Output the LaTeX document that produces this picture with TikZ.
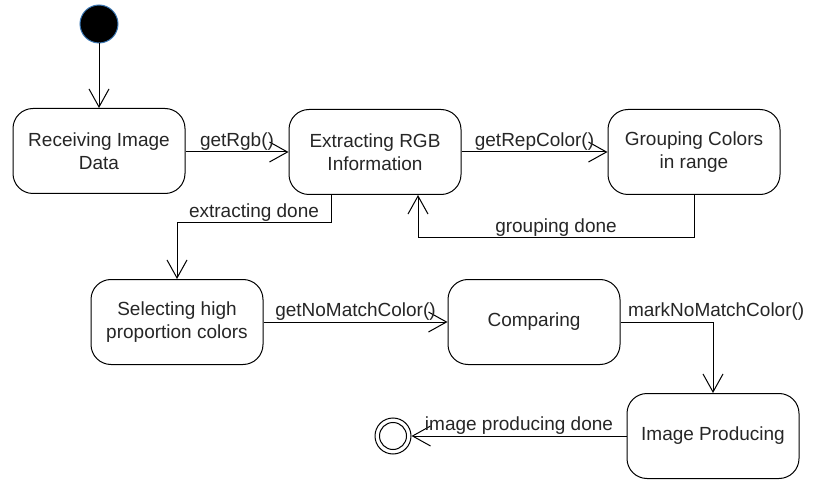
\documentclass[tikz,border=0pt]{standalone}
\usepackage{fontspec}
\setmainfont{Liberation Sans}
\usetikzlibrary{arrows.meta}
\tikzset{every path/.style={line width=1pt},
  state/.style={draw, rounded corners=20pt, minimum width=172pt, minimum height=85pt,
    align=center, text=black!85, font=\fontsize{19}{23}\selectfont},
  initial/.style={circle, fill=black, draw={rgb,255:red,60;green,120;blue,180}, minimum size=38pt, inner sep=0pt},
  final/.style={circle, draw, minimum size=36pt, inner sep=0pt},
  trans/.style={-{Straight Barb[length=18pt,width=20pt]}},
  lbl/.style={text=black!85, font=\fontsize{19}{23}\selectfont, inner sep=1pt}}

\begin{document}
\begin{tikzpicture}[x=1pt,y=-1pt]
  \useasboundingbox (0,0) rectangle (831,492);
  % states
  \node[initial] (init) at (99,24) {};
  \node[state] (recv) at (99,151) {Receiving Image\\Data};
  \node[state] (extr) at (375,152) {Extracting RGB\\Information};
  \node[state] (grp) at (694,152) {Grouping Colors\\in range};
  \node[state] (sel) at (177,322) {Selecting high\\proportion colors};
  \node[state] (cmp) at (534,322) {Comparing};
  \node[state] (prod) at (713,436) {Image Producing};
  \node[final] (fin) at (393,436) {};
  \draw (fin.center) circle (13.5pt);
  % transitions
  \draw[trans] (init) -- (recv);
  \draw[trans] (recv.east |- extr) -- node[lbl, above] {getRgb()} (extr);
  \draw[trans] (extr) -- node[lbl, above] {getRepColor()} (grp);
  \draw[trans] (grp.south) -- ++(0,43) -| node[lbl, above, pos=0.25] {grouping done} ([xshift=43pt]extr.south);
  \draw[trans] ([xshift=-44pt]extr.south) -- ++(0,28) -| node[lbl, above, pos=0.25] {extracting done} (sel.north);
  \draw[trans] (sel) -- node[lbl, above] {getNoMatchColor()} (cmp);
  \draw[trans] (cmp.east) -| node[lbl, above right, pos=0, xshift=6pt] {markNoMatchColor()} (prod.north);
  \draw[trans] (prod) -- node[lbl, above] {image producing done} (fin);
\end{tikzpicture}
\end{document}
